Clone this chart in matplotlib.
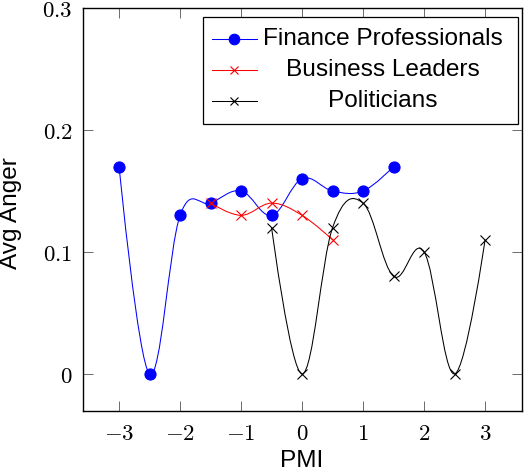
import numpy as np
import matplotlib
matplotlib.use("Agg")
import matplotlib.pyplot as plt
from matplotlib.path import Path
from matplotlib.patches import PathPatch, Rectangle
from matplotlib.lines import Line2D

# ---------------- data ----------------
fin_x = [-3, -2.5, -2, -1.5, -1, -0.5, 0, 0.5, 1, 1.5]
fin_y = [0.17, 0.0, 0.13, 0.14, 0.15, 0.13, 0.16, 0.15, 0.15, 0.17]
bus_x = [-1.5, -1, -0.5, 0, 0.5]
bus_y = [0.14, 0.13, 0.14, 0.13, 0.11]
pol_x = [-0.5, 0, 0.5, 1, 1.5, 2, 2.5, 3]
pol_y = [0.12, 0.0, 0.12, 0.14, 0.08, 0.10, 0.0, 0.11]
series_names = ["Finance Professionals", "Business Leaders", "Politicians"]
x_ticks = [-3, -2, -1, 0, 1, 2, 3]
x_tick_labels = [r"$-3$", r"$-2$", r"$-1$", r"$0$", r"$1$", r"$2$", r"$3$"]
y_ticks = [0, 0.1, 0.2, 0.3]
y_tick_labels = [r"$0$", r"$0.1$", r"$0.2$", r"$0.3$"]
x_label = "PMI"
y_label = "Avg Anger"

plt.rcParams["mathtext.fontset"] = "cm"
plt.rcParams["font.family"] = ["Liberation Sans", "DejaVu Sans"]

W, H = 528, 474
fig = plt.figure(figsize=(W / 100, H / 100), dpi=100)
ax = fig.add_axes([82.5 / W, 1 - 410.5 / H, (521.7 - 82.5) / W, (410.5 - 8) / H])


def smooth_path(xs, ys, tension=0.55 / 3):
    p = np.column_stack([xs, ys]).astype(float)
    n = len(p)
    verts = [p[0]]
    codes = [Path.MOVETO]
    for i in range(n - 1):
        c1 = p[i] + tension * (p[i + 1] - p[i - 1]) if i > 0 else p[i]
        c2 = p[i + 1] - tension * (p[i + 2] - p[i]) if i + 1 < n - 1 else p[i + 1]
        verts += [c1, c2, p[i + 1]]
        codes += [Path.CURVE4] * 3
    return Path(verts, codes)


styles = [
    dict(color="#0000ff", marker="o", ms=8, mew=0.8),
    dict(color="#ff0000", marker="x", ms=6.5, mew=0.8),
    dict(color="#000000", marker="x", ms=6.5, mew=0.8),
]
data = [(fin_x, fin_y), (bus_x, bus_y), (pol_x, pol_y)]
lw = 0.75
for k, ((xs, ys), st) in enumerate(zip(data, styles)):
    patch = PathPatch(smooth_path(xs, ys), fill=False, edgecolor=st["color"],
                      lw=lw, zorder=2 + 2 * k)
    ax.add_patch(patch)
    ax.plot(xs, ys, linestyle="none", marker=st["marker"], ms=st["ms"],
            mew=st["mew"], color=st["color"], zorder=3 + 2 * k)

ax.set_xlim(-3.6, 3.6)
ax.set_ylim(-0.03, 0.3)
ax.set_xticks(x_ticks)
ax.set_xticklabels(x_tick_labels)
ax.set_yticks(y_ticks)
ax.set_yticklabels(y_tick_labels)
ax.tick_params(direction="in", top=True, right=True, length=7.5, width=0.6,
               color="#555555", labelsize=16.5)
ax.tick_params(axis="x", pad=8)
ax.tick_params(axis="y", pad=7)
for s in ax.spines.values():
    s.set_linewidth(1.0)
    s.set_color("black")

ax.set_xlabel(x_label, fontsize=17.6)
ax.xaxis.label.set_va("baseline")
ax.xaxis.set_label_coords(0.5, -0.141)
ax.set_ylabel(y_label, fontsize=17.6)
ax.yaxis.label.set_va("center")
ax.yaxis.set_label_coords(-0.163, 0.49)

# legend (pgfplots style, centred text)
ax.add_patch(Rectangle((0.274, 0.712), 0.992 - 0.274, 0.978 - 0.712,
                       transform=ax.transAxes, facecolor="white",
                       edgecolor="black", lw=0.9, zorder=20))
rows = [0.922, 0.846, 0.770]
for name, st, ry in zip(series_names, styles, rows):
    ax.add_line(Line2D([0.295, 0.397], [ry, ry], transform=ax.transAxes,
                       color=st["color"], lw=lw, zorder=21))
    ax.add_line(Line2D([0.346], [ry], transform=ax.transAxes, color=st["color"],
                       marker=st["marker"], ms=st["ms"] * 0.95, mew=st["mew"],
                       linestyle="none", zorder=22))
    ax.text(0.684, ry, name, transform=ax.transAxes, ha="center", va="center",
            fontsize=17.6, zorder=23)

fig.savefig("out.png", dpi=100)
